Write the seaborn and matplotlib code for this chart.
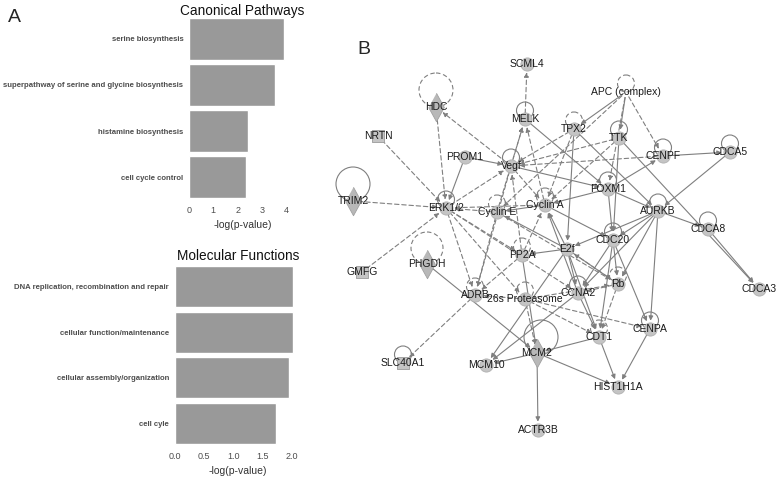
import matplotlib
matplotlib.use('Agg')
import matplotlib.pyplot as plt
from matplotlib.patches import Circle
import pandas as pd
import seaborn as sns

# ---------------- data ----------------
canon_terms = ["serine biosynthesis",
               "superpathway of serine and glycine biosynthesis",
               "histamine biosynthesis",
               "cell cycle control"]
canon_vals = [3.92, 3.55, 2.43, 2.36]

molec_terms = ["DNA replication, recombination and repair",
               "cellular function/maintenance",
               "cellular assembly/organization",
               "cell cyle"]
molec_vals = [2.01, 2.01, 1.95, 1.72]

# network nodes (layout in picture pixels)
node_names = ["SCML4", "APC (complex)", "HDC", "MELK", "TPX2", "TTK", "NRTN", "CENPF",
              "CDCA5", "PROM1", "Vegf", "TRIM2", "ERK1/2", "Cyclin E", "Cyclin A",
              "FOXM1", "AURKB", "CDCA8", "CDC20", "E2f", "PP2A", "GMFG", "PHGDH", "Rb",
              "ADRB", "26s Proteasome", "CCNA2", "CDCA3", "CDT1", "CENPA", "MCM2",
              "SLC40A1", "MCM10", "HIST1H1A", "ACTR3B"]
node_x = [527, 626, 436, 525, 574, 619, 378, 663, 730, 465, 511, 353, 446, 497, 545,
          608, 658, 708, 613, 567, 522, 362, 427, 618, 475, 525, 578, 759, 599, 650,
          537, 403, 486, 618, 538]
node_y = [64, 92, 107, 119, 129, 138, 136, 156, 152, 157, 166, 201, 208, 212, 205,
          189, 211, 229, 240, 249, 255, 272, 264, 284, 295, 299, 293, 289, 337, 329,
          353, 363, 365, 387, 430]
node_shape = ["circle", "none", "diamond", "circle", "circle", "circle", "square", "circle",
              "circle", "circle", "circle", "diamond", "circle", "circle", "circle",
              "circle", "circle", "circle", "circle", "circle", "circle", "square",
              "diamond", "circle", "circle", "circle", "circle", "circle", "circle",
              "circle", "diamond", "square", "circle", "circle", "circle"]
# self loops: 0 none, 1 solid, 2 dashed
node_loop = [0, 2, 2, 1, 2, 1, 0, 1, 1, 0, 1, 1, 1, 2, 2, 1, 1, 1, 1, 0, 2, 0, 2, 2,
             2, 2, 1, 0, 2, 1, 1, 1, 0, 0, 0]
big_loops = {"HDC": 17, "TRIM2": 17, "PHGDH": 16, "MCM2": 17}

solid_edges = [("PROM1", "Vegf"), ("PROM1", "ERK1/2"), ("Vegf", "FOXM1"), ("MELK", "FOXM1"),
               ("TPX2", "AURKB"), ("TPX2", "E2f"), ("APC (complex)", "TPX2"),
               ("APC (complex)", "TTK"), ("TTK", "CDC20"), ("TTK", "CDCA3"),
               ("CENPF", "CDCA5"), ("CDCA5", "AURKB"), ("FOXM1", "AURKB"),
               ("FOXM1", "CDC20"), ("FOXM1", "Cyclin A"), ("FOXM1", "CENPF"),
               ("AURKB", "CDCA8"), ("AURKB", "CDC20"), ("AURKB", "E2f"), ("AURKB", "CCNA2"),
               ("AURKB", "Rb"), ("AURKB", "CENPA"), ("Cyclin A", "Cyclin E"),
               ("E2f", "Cyclin A"), ("CCNA2", "Cyclin A"), ("Cyclin A", "CDC20"),
               ("E2f", "Cyclin E"), ("E2f", "CCNA2"), ("E2f", "CDT1"), ("E2f", "Rb"),
               ("E2f", "PP2A"), ("CDC20", "CCNA2"), ("CDC20", "CDT1"), ("CDC20", "Rb"),
               ("CDC20", "CENPA"), ("CCNA2", "CDT1"), ("E2f", "MCM10"), ("PP2A", "MCM2"),
               ("PHGDH", "MCM2"), ("MCM2", "MCM10"), ("CDT1", "MCM2"),
               ("MCM2", "HIST1H1A"), ("MCM2", "ACTR3B"), ("CDT1", "HIST1H1A"),
               ("CENPA", "HIST1H1A"), ("CDCA8", "CDCA3"), ("CCNA2", "MCM10")]
dashed_edges = [("MELK", "SCML4"), ("Vegf", "HDC"), ("HDC", "ERK1/2"), ("NRTN", "ERK1/2"),
                ("TRIM2", "ERK1/2"), ("GMFG", "ERK1/2"), ("ERK1/2", "Vegf"),
                ("Cyclin E", "ERK1/2"), ("Cyclin A", "ERK1/2"), ("ERK1/2", "ADRB"),
                ("ERK1/2", "PP2A"), ("ERK1/2", "26s Proteasome"), ("ERK1/2", "CCNA2"),
                ("Vegf", "MELK"), ("TPX2", "Vegf"), ("TTK", "Vegf"), ("CENPF", "Vegf"),
                ("Vegf", "Cyclin A"), ("Vegf", "ADRB"), ("Cyclin E", "MELK"),
                ("Cyclin A", "MELK"), ("TPX2", "Cyclin A"), ("APC (complex)", "Cyclin E"),
                ("APC (complex)", "CENPF"), ("APC (complex)", "FOXM1"), ("PP2A", "Vegf"),
                ("PP2A", "Cyclin A"), ("ADRB", "SLC40A1"), ("PP2A", "ADRB"),
                ("26s Proteasome", "ADRB"), ("26s Proteasome", "Rb"),
                ("26s Proteasome", "CDT1"), ("26s Proteasome", "CENPA"),
                ("26s Proteasome", "MCM2"), ("Rb", "E2f"), ("Rb", "CCNA2"), ("Rb", "CDT1"),
                ("Cyclin E", "ADRB"), ("Cyclin E", "Rb"), ("TTK", "Cyclin A")]

# ---------------- style ----------------
sns.set_theme(style="white")
plt.rcParams['font.family'] = ['Liberation Sans', 'DejaVu Sans']
EDGE = "#7f7f7f"
NODE = "#c4c4c4"

fig = plt.figure(figsize=(7.78, 4.8), dpi=100)


def bar_panel(rect, terms, vals, xmax, ticks, ticklabels, title, pad):
    ax = fig.add_axes(rect)
    df = pd.DataFrame({"term": terms, "val": vals})
    sns.barplot(data=df, x="val", y="term", color="#999999", width=0.91,
                saturation=1, ax=ax)
    ax.set_xlim(0, xmax)
    ax.set_ylim(3.5, -0.5)
    sns.despine(ax=ax, left=True, bottom=True)
    ax.set_xticks(ticks)
    ax.set_xticklabels(ticklabels)
    ax.tick_params(axis="both", length=2, width=0.5, color="#555555", pad=2)
    ax.tick_params(axis="x", labelsize=6.5, labelcolor="#4d4d4d")
    ax.tick_params(axis="y", labelsize=5.55, labelcolor="#4d4d4d")
    for t in ax.get_yticklabels():
        t.set_fontweight("bold")
    ax.set_ylabel("")
    ax.set_xlabel("-log(p-value)", fontsize=7.5, color="#333333", labelpad=4)
    ax.set_title(title, fontsize=9.8, color="#111111", pad=pad)
    return ax


bar_panel([189 / 778, 280 / 480, 107 / 778, 184 / 480], canon_terms, canon_vals,
          4.4, [0, 1, 2, 3, 4], ["0", "1", "2", "3", "4"], "Canonical Pathways", 1)
bar_panel([174.5 / 778, 34 / 480, 126.5 / 778, 182 / 480], molec_terms, molec_vals,
          2.15, [0, 0.5, 1, 1.5, 2], ["0.0", "0.5", "1.0", "1.5", "2.0"],
          "Molecular Functions", 3)

fig.text(14 / 778, 1 - 17 / 480, "A", fontsize=14, ha="center", va="center")
fig.text(364 / 778, 1 - 49 / 480, "B", fontsize=14, ha="center", va="center")

# ---------------- network ----------------
net = fig.add_axes([320 / 778, 0, 458 / 778, 1])
net.set_xlim(320, 778)
net.set_ylim(480, 0)
net.axis("off")

pos = {n: (x, y) for n, x, y in zip(node_names, node_x, node_y)}

for edges, ls in [(solid_edges, "-"), (dashed_edges, (0, (4, 2.5)))]:
    for s, t in edges:
        net.annotate("", xy=pos[t], xytext=pos[s],
                     arrowprops=dict(arrowstyle="-|>", color=EDGE, lw=0.8, ls=ls,
                                     mutation_scale=6.5, shrinkA=4, shrinkB=6))

# self loops
for n, x, y, lp in zip(node_names, node_x, node_y, node_loop):
    if lp == 0:
        continue
    r = big_loops.get(n, 8.5)
    cx, cy = x, y - r
    if n == "MCM2":
        cx, cy = x + 4, y - 16
    net.add_patch(Circle((cx, cy), r, fill=False, ec=EDGE, lw=0.8,
                         ls="-" if lp == 1 else (0, (4, 2.5)), zorder=1))

nodes = pd.DataFrame({"name": node_names, "x": node_x, "y": node_y, "shape": node_shape})
nodes = nodes[nodes["shape"] != "none"]
circ = nodes[nodes["shape"] == "circle"]
sns.scatterplot(data=circ, x="x", y="y", s=90, color=NODE, edgecolor="#b0b0b0",
                linewidth=0.6, ax=net, zorder=3, legend=False)
sq = nodes[nodes["shape"] == "square"]
sns.scatterplot(data=sq, x="x", y="y", s=70, marker="s", color=NODE, edgecolor="#9a9a9a",
                linewidth=0.6, ax=net, zorder=3, legend=False)
dia = nodes[nodes["shape"] == "diamond"]
net.scatter(dia["x"], dia["y"], s=420, marker=[(0, 1), (0.55, 0), (0, -1), (-0.55, 0)],
            color="#b8b8b8", edgecolor="#a0a0a0", lw=0.6, zorder=3)
net.set_xlim(320, 778)
net.set_ylim(480, 0)
net.set_xlabel("")
net.set_ylabel("")

for n, x, y in zip(node_names, node_x, node_y):
    net.text(x, y, n, fontsize=7.5, color="#1a1a1a", ha="center", va="center", zorder=5)

fig.savefig("out.png", dpi=100)
